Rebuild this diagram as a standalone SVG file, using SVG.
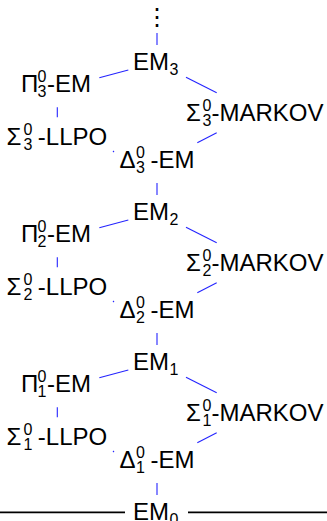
<svg xmlns="http://www.w3.org/2000/svg" width="327" height="521" viewBox="0 0 327 521">
<style>
text{font-family:"Liberation Sans",Arial,sans-serif;fill:#000}
.m{font-size:24px}
.s{font-size:16px}
.c line{stroke:#2424ff;stroke-width:1.1}
.c line.base{stroke:#000;stroke-width:1.8}
</style>
<g id="vdots"><text class="m" x="157" y="25" text-anchor="middle">⋮</text></g>

<g id="em3"><text class="m" x="133" y="70">EM</text><text class="s" x="169.5" y="74.5">3</text></g>
<g id="pi3"><text class="m" x="21" y="92">Π</text><text class="s" x="37.5" y="82">0</text><text class="s" x="37.5" y="96.5">3</text><text class="m" x="47" y="92">-EM</text></g>
<g id="sm3"><text class="m" x="186" y="121">Σ</text><text class="s" x="202.5" y="111">0</text><text class="s" x="202.5" y="125.5">3</text><text class="m" x="211.5" y="121">-MARKOV</text></g>
<g id="sl3"><text class="m" x="6.5" y="145">Σ</text><text class="s" x="23.5" y="135">0</text><text class="s" x="23.5" y="149.5">3</text><text class="m" x="37.8" y="145">-LLPO</text></g>
<g id="d3"><text class="m" x="119.5" y="168">Δ</text><text class="s" x="136" y="158">0</text><text class="s" x="136" y="172.5">3</text><text class="m" x="150.5" y="168">-EM</text></g>

<g id="em2"><text class="m" x="133" y="220">EM</text><text class="s" x="169.5" y="224.5">2</text></g>
<g id="pi2"><text class="m" x="21" y="242">Π</text><text class="s" x="37.5" y="232">0</text><text class="s" x="37.5" y="246.5">2</text><text class="m" x="47" y="242">-EM</text></g>
<g id="sm2"><text class="m" x="186" y="271">Σ</text><text class="s" x="202.5" y="261">0</text><text class="s" x="202.5" y="275.5">2</text><text class="m" x="211.5" y="271">-MARKOV</text></g>
<g id="sl2"><text class="m" x="6.5" y="295">Σ</text><text class="s" x="23.5" y="285">0</text><text class="s" x="23.5" y="299.5">2</text><text class="m" x="37.8" y="295">-LLPO</text></g>
<g id="d2"><text class="m" x="119.5" y="318">Δ</text><text class="s" x="136" y="308">0</text><text class="s" x="136" y="322.5">2</text><text class="m" x="150.5" y="318">-EM</text></g>

<g id="em1"><text class="m" x="133" y="370">EM</text><text class="s" x="169.5" y="374.5">1</text></g>
<g id="pi1"><text class="m" x="21" y="392">Π</text><text class="s" x="37.5" y="382">0</text><text class="s" x="37.5" y="396.5">1</text><text class="m" x="47" y="392">-EM</text></g>
<g id="sm1"><text class="m" x="186" y="421">Σ</text><text class="s" x="202.5" y="411">0</text><text class="s" x="202.5" y="425.5">1</text><text class="m" x="211.5" y="421">-MARKOV</text></g>
<g id="sl1"><text class="m" x="6.5" y="445">Σ</text><text class="s" x="23.5" y="435">0</text><text class="s" x="23.5" y="449.5">1</text><text class="m" x="37.8" y="445">-LLPO</text></g>
<g id="d1"><text class="m" x="119.5" y="468">Δ</text><text class="s" x="136" y="458">0</text><text class="s" x="136" y="472.5">1</text><text class="m" x="150.5" y="468">-EM</text></g>

<g id="em0"><text class="m" x="133" y="520">EM</text><text class="s" x="169.5" y="524.5">0</text></g>

<g id="connectors" class="c">
<line x1="157" y1="33" x2="157" y2="45"/>
<line x1="128.3" y1="70" x2="99.3" y2="77.7"/>
<line x1="186" y1="77.3" x2="216.7" y2="92.7"/>
<line x1="57.3" y1="107.3" x2="57.3" y2="117.3"/>
<line x1="216.7" y1="132.7" x2="197.3" y2="142.7"/>
<line x1="113" y1="151" x2="114" y2="152"/>
<line x1="157" y1="183" x2="157" y2="195"/>
<line x1="128.3" y1="220" x2="99.3" y2="227.7"/>
<line x1="186" y1="227.3" x2="216.7" y2="242.7"/>
<line x1="57.3" y1="257.3" x2="57.3" y2="267.3"/>
<line x1="216.7" y1="282.7" x2="197.3" y2="292.7"/>
<line x1="113" y1="301" x2="114" y2="302"/>
<line x1="157" y1="333" x2="157" y2="345"/>
<line x1="128.3" y1="370" x2="99.3" y2="377.7"/>
<line x1="186" y1="377.3" x2="216.7" y2="392.7"/>
<line x1="57.3" y1="407.3" x2="57.3" y2="417.3"/>
<line x1="216.7" y1="432.7" x2="197.3" y2="442.7"/>
<line x1="113" y1="451" x2="114" y2="452"/>
<line x1="157" y1="483" x2="157" y2="495"/>
<line class="base" x1="0" y1="512.3" x2="125" y2="512.3"/>
<line class="base" x1="188" y1="512.3" x2="327" y2="512.3"/>
</g>
</svg>
